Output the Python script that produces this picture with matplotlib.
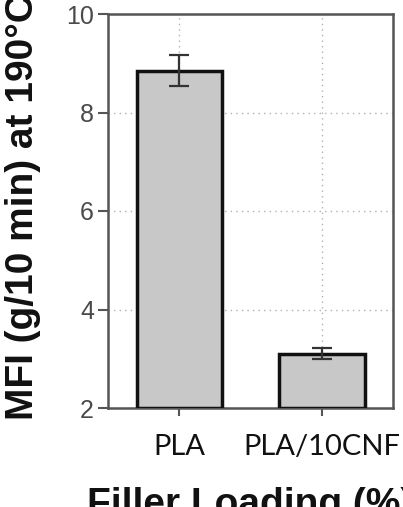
import matplotlib.pyplot as plt
import numpy as np

plt.rcParams['font.family'] = 'sans-serif'
plt.rcParams['font.sans-serif'] = ['Liberation Sans', 'DejaVu Sans']

# Data
samples = ["PLA", "PLA/10CNF"]
mfi = [8.85, 3.10]
mfi_err = [0.32, 0.11]
y_ticks = [2, 4, 6, 8, 10]

fig = plt.figure(figsize=(4.03, 5.07), dpi=100)
ax = fig.add_axes([108 / 403, 1 - 408 / 507, 285 / 403, 394 / 507])

x = np.arange(len(samples))
ax.bar(x, [v - 2 for v in mfi], bottom=2, width=0.6, color='#c8c8c8',
       edgecolor='#111111', linewidth=2.5, zorder=3)
ax.errorbar(x, mfi, yerr=mfi_err, fmt='none', ecolor='#333333',
            elinewidth=1.6, capsize=7, capthick=1.6, zorder=4)

ax.set_xlim(-0.5, 1.5)
ax.set_ylim(2, 10)
ax.set_yticks(y_ticks)
ax.set_xticks(x)
ax.set_xticklabels(samples, fontfamily='Lato', fontsize=21, color='#111111')
ax.tick_params(axis='y', labelsize=18, labelcolor='#4a4a4a', color='#555555',
               length=7, width=1.5, pad=3)
ax.tick_params(axis='x', color='#555555', length=6, width=1.5, pad=13)

ax.set_axisbelow(True)
ax.grid(True, linestyle=(0, (1, 3)), color='#b0b0b0', linewidth=1.0)

for s in ax.spines.values():
    s.set_color('#555555')
    s.set_linewidth(1.8)

fig.text(23 / 403, 1 - 420 / 507, "MFI (g/10 min) at 190°C", rotation=90,
         ha='center', va='bottom', fontsize=28, fontweight='bold', color='#111111')
fig.text(250 / 403, -0.016, "Filler Loading (%)", ha='center', va='baseline',
         fontsize=28, fontweight='bold', color='#111111')

fig.savefig('out.png', dpi=100)
